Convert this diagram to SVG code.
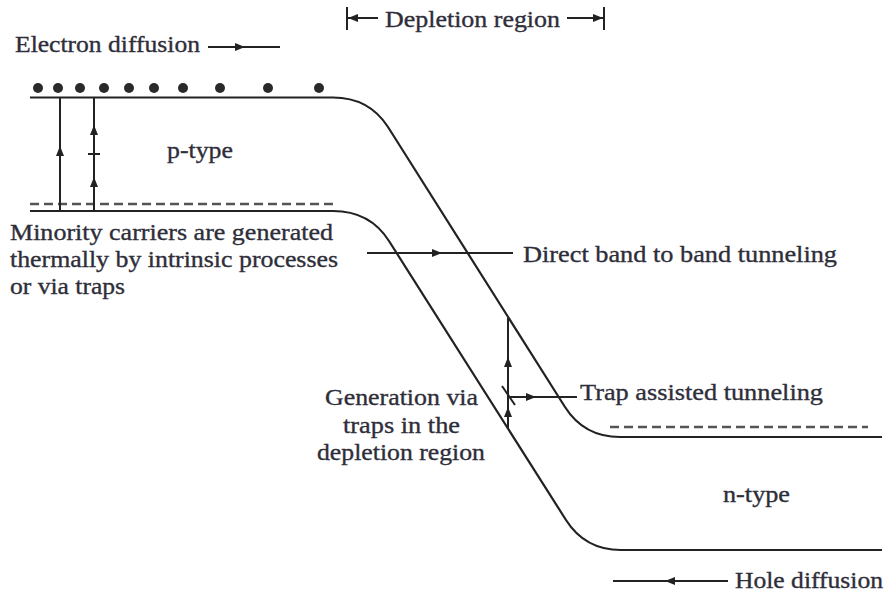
<svg xmlns="http://www.w3.org/2000/svg" width="887" height="595" viewBox="0 0 887 595">
<defs>
<style>
.band{fill:none;stroke:#222;stroke-width:2.2}
.dash{fill:none;stroke:#555;stroke-width:2.6;stroke-dasharray:9,5}
.ln{fill:none;stroke:#222;stroke-width:2}
.t{font-family:"Liberation Serif",serif;font-size:24px;fill:#2e2e3a;stroke:#2e2e3a;stroke-width:0.35}
.dot{fill:#2a2a2a}
</style>
<path id="ah" d="M0,0 L-10,-4 L-10,4 Z" fill="#222"/>
</defs>
<rect width="887" height="595" fill="#fff"/>

<g id="bands">
<path class="band" d="M30,97.5 L333,97.5 Q369,97.5 388,127 L565,407 Q584,437 620,437 L882,437"/>
<path class="band" d="M30,211 L333,211 Q370,211 389,241 L566,520 Q585,550 621,550 L882,550"/>
<path class="dash" d="M30,204 L335,204"/>
<path class="dash" d="M610,427 L868,427"/>
</g>

<g id="electrons">
<circle class="dot" cx="38" cy="88" r="5"/>
<circle class="dot" cx="58" cy="88" r="5"/>
<circle class="dot" cx="80" cy="88" r="5"/>
<circle class="dot" cx="104" cy="88" r="5"/>
<circle class="dot" cx="129" cy="88" r="5"/>
<circle class="dot" cx="154" cy="88" r="5"/>
<circle class="dot" cx="183" cy="88" r="5"/>
<circle class="dot" cx="220" cy="88" r="5"/>
<circle class="dot" cx="268" cy="88" r="5"/>
<circle class="dot" cx="319" cy="88" r="5"/>
</g>

<g id="connectors">
<!-- electron diffusion arrow -->
<line class="ln" x1="208" y1="47" x2="280" y2="47"/>
<use href="#ah" transform="translate(245,47)"/>
<!-- depletion region -->
<line class="ln" x1="347" y1="7" x2="347" y2="30"/>
<line class="ln" x1="347" y1="18" x2="378" y2="18"/>
<use href="#ah" transform="translate(348,18) rotate(180)"/>
<line class="ln" x1="604" y1="7" x2="604" y2="30"/>
<line class="ln" x1="567" y1="18" x2="604" y2="18"/>
<use href="#ah" transform="translate(603,18)"/>
<!-- p-side generation -->
<line class="ln" x1="60" y1="97" x2="60" y2="211"/>
<use href="#ah" transform="translate(60,146) rotate(-90)"/>
<line class="ln" x1="94" y1="97" x2="94" y2="211"/>
<use href="#ah" transform="translate(94,125) rotate(-90)"/>
<line class="ln" x1="88" y1="154" x2="100" y2="154"/>
<use href="#ah" transform="translate(94,177) rotate(-90)"/>
<!-- direct band to band -->
<line class="ln" x1="367" y1="253" x2="513" y2="253"/>
<use href="#ah" transform="translate(442,253)"/>
<!-- trap assisted / generation in depletion -->
<line class="ln" x1="508" y1="318" x2="508" y2="429"/>
<use href="#ah" transform="translate(508,357) rotate(-90)"/>
<use href="#ah" transform="translate(508,407) rotate(-90)"/>
<line class="ln" x1="502" y1="386" x2="515" y2="405"/>
<line class="ln" x1="508" y1="397" x2="577" y2="397"/>
<use href="#ah" transform="translate(536,397)"/>
<!-- hole diffusion -->
<line class="ln" x1="613" y1="581" x2="728" y2="581"/>
<use href="#ah" transform="translate(665,581) rotate(180)"/>
</g>

<g id="labels">
<text class="t" x="15" y="52" textLength="185" lengthAdjust="spacingAndGlyphs">Electron diffusion</text>
<text class="t" x="385" y="27" textLength="175" lengthAdjust="spacingAndGlyphs">Depletion region</text>
<text class="t" x="167" y="158" textLength="66" lengthAdjust="spacingAndGlyphs">p-type</text>
<text class="t" x="10" y="240" textLength="323" lengthAdjust="spacingAndGlyphs">Minority carriers are generated</text>
<text class="t" x="10" y="267" textLength="328" lengthAdjust="spacingAndGlyphs">thermally by intrinsic processes</text>
<text class="t" x="10" y="294" textLength="115" lengthAdjust="spacingAndGlyphs">or via traps</text>
<text class="t" x="523" y="262" textLength="314" lengthAdjust="spacingAndGlyphs">Direct band to band tunneling</text>
<text class="t" x="580" y="400" textLength="243" lengthAdjust="spacingAndGlyphs">Trap assisted tunneling</text>
<text class="t" x="325" y="405" textLength="153" lengthAdjust="spacingAndGlyphs">Generation via</text>
<text class="t" x="343" y="433" textLength="117" lengthAdjust="spacingAndGlyphs">traps in the</text>
<text class="t" x="317" y="460" textLength="168" lengthAdjust="spacingAndGlyphs">depletion region</text>
<text class="t" x="723" y="502" textLength="67" lengthAdjust="spacingAndGlyphs">n-type</text>
<text class="t" x="735" y="588" textLength="148" lengthAdjust="spacingAndGlyphs">Hole diffusion</text>
</g>
</svg>
